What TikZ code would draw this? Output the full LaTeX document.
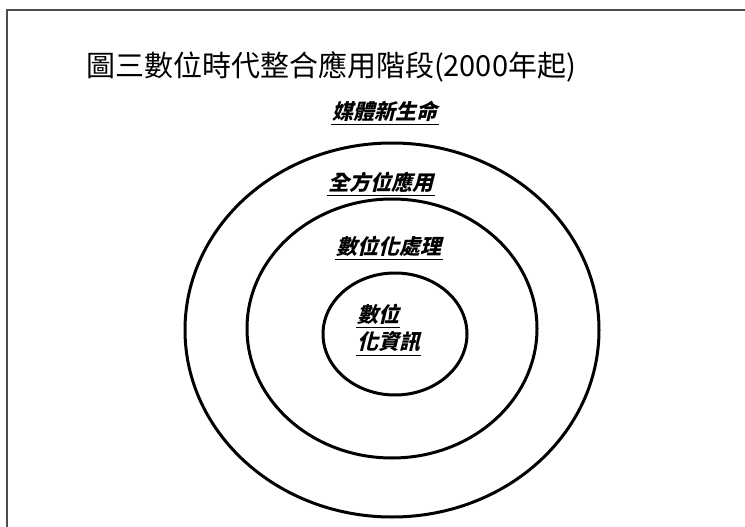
\documentclass[tikz,border=0pt]{standalone}
\usepackage{fontspec}
\usetikzlibrary{positioning}
\newfontfamily\cjk{Noto Sans CJK TC}
\newfontfamily\cjklab[FakeSlant=0.25]{Noto Sans CJK TC}
\tikzset{
  lab/.style={inner xsep=1pt, inner ysep=3pt,
    font=\cjklab\bfseries\fontsize{21}{25}\selectfont},
  uline/.style={line width=1.5pt},
  ring/.style={line width=3pt},
}

\begin{document}
\begin{tikzpicture}[x=1pt, y=-1pt]
  \useasboundingbox (0,0) rectangle (745,527);

  % Frame (only top and left edges show)
  \draw[black!70, line width=1.5pt] (7,527) -- (7,10) -- (745,10);

  % Rings
  \foreach \cx/\cy/\rx/\ry in {392/330/207/187, 392/328.5/145/129.5, 395/334/72/61}
    \draw[ring] (\cx,\cy) ellipse [x radius=\rx, y radius=\ry];

  % Title
  \node[font=\cjk\fontsize{29}{34}\selectfont] (title) at (331,67)
    {圖三數位時代整合應用階段(2000年起)};

  % Layer labels
  \node[lab] (media)  at (385,111) {媒體新生命};
  \node[lab] (allapp) at (381,182) {全方位應用};
  \node[lab] (proc)   at (389,246) {數位化處理};
  \node[lab, anchor=west] (infoA) at (356,314) {數位};
  \node[lab, anchor=west] (infoB) at (356,342) {化資訊};

  % Underlines
  \foreach \n in {media, allapp, proc, infoA, infoB}
    \draw[uline] (\n.south west) -- (\n.south east);
\end{tikzpicture}
\end{document}
